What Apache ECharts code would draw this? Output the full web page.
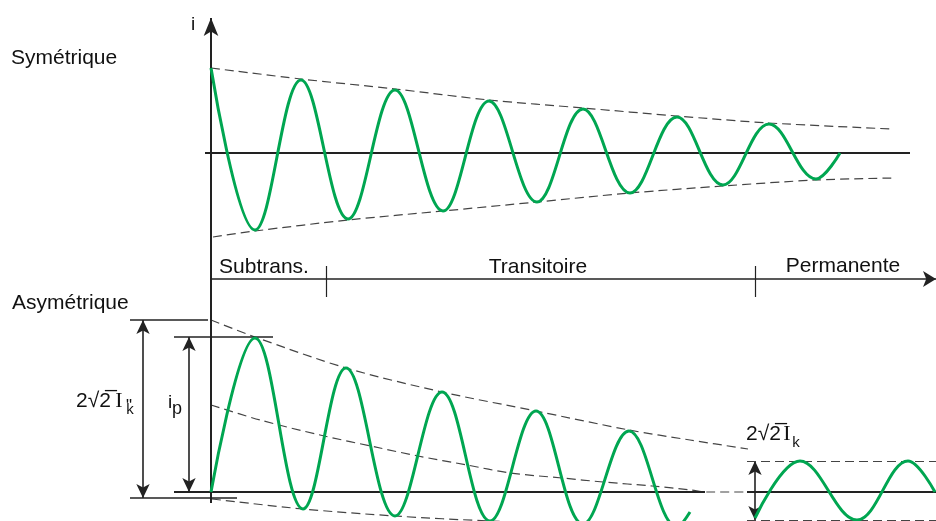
<!DOCTYPE html>
<html>
<head>
<meta charset="utf-8">
<script src="https://cdn.jsdelivr.net/npm/echarts@6/dist/echarts.min.js"></script>
<style>
  html, body { margin: 0; background: #fff; }
  #chart { width: 936px; height: 521px; }
</style>
</head>
<body>
<div id="chart"></div>
<script>
// t = 0 at the current axis, i in the same drawing units
var phaseNames = ['Subtrans.', 'Transitoire', 'Permanente'];
var phaseEdges = [115, 544];

// symmetric current: successive peaks and troughs
var symWave = [[0,85],[44,-77],[90,73],[137,-66],[184,63],[232,-58],[278,52],[326,-49],
  [372,44],[419,-40],[466,36],[512,-32],[558,29],[605,-26],[629,0]];
var symUpper = [[0,85],[90,74],[184,64],[278,53],[372,45],[466,37],[558,30],[681,24]];
var symLower = [[2,-84],[44,-78],[137,-67],[232,-58],[326,-49],[419,-40],[512,-33],[605,-27],[684,-25]];

// asymmetric current: successive peaks and troughs
var asymWave = [[0,0],[44,154],[92,-17],[135,124],[184,-24],[231,100],[279,-29],[325,81],
  [372,-32],[418,61],[466,-35],[479,-20]];
var asymUpper = [[0,172],[44,155],[135,124],[231,100],[325,81],[418,62],[479,52],[537,43]];
var asymDc = [[0,87],[49,72],[109,57],[169,44],[207,36],[256,27],[299,19],[351,14],[392,10],[441,6],[480,2],[496,0],[539,0]];
var asymLower = [[1,-7],[92,-17],[184,-24],[279,-29],[372,-32],[466,-35]];

// steady state
var steadyWave = [[544,-26],[589,31],[646,-28],[697,31],[724,0]];
var steadyPeak = 31, steadyTrough = -28;

// marked levels on the asymmetric plot
var ikInitial = 172;   // 2√2 I"k
var ipLevel = 155;     // ip
var ikBase = -6;

var GREEN = '#00a651', INK = '#222', DASH = '#444';
var FONT = 'Liberation Sans, Arial, sans-serif';

function seg(a, b, o) {
  o = o || {};
  return [
    { coord: a, symbol: o.from || 'none', symbolSize: o.size || 10,
      lineStyle: { color: INK, width: o.width || 2, type: o.type || 'solid' } },
    { coord: b, symbol: o.to || 'none', symbolSize: o.size || 10 }
  ];
}

function curve(name, data, grid, style, z, smooth) {
  return {
    name: name, type: 'line', xAxisIndex: grid, yAxisIndex: grid, data: data,
    showSymbol: false, smooth: smooth, z: z, silent: true,
    lineStyle: style
  };
}

var dashStyle = { color: DASH, width: 1.2, type: [9, 5] };
var waveStyle = { color: GREEN, width: 3 };
var arrowHead = [10, 14];

var topGuides = [
  seg([-6, 0], [699, 0]),
  seg([0, -126], [0, 135], { to: 'arrow', size: [11, 18] }),
  seg([-1, -126], [725, -126], { to: 'arrow', size: [12, 13], width: 1.6 }),
  seg([phaseEdges[0], -113], [phaseEdges[0], -126], { width: 1.2 }),
  seg([phaseEdges[1], -113], [phaseEdges[1], -126], { width: 1.2 })
];
var botGuides = [
  seg([0, 213], [0, -11]),
  seg([phaseEdges[0], 213], [phaseEdges[0], 195], { width: 1.2 }),
  seg([phaseEdges[1], 213], [phaseEdges[1], 195], { width: 1.2 }),
  seg([-37, 0], [494, 0]),
  seg([536, 0], [725, 0]),
  seg([-81, ikInitial], [-3, ikInitial], { width: 1.6 }),
  seg([-37, ipLevel], [62, ipLevel], { width: 1.6 }),
  seg([-81, ikBase], [26, ikBase], { width: 1.6 }),
  seg([-68, ikInitial], [-68, ikBase], { from: 'arrow', to: 'arrow', size: arrowHead, width: 1.6 }),
  seg([-22, ipLevel], [-22, 0], { from: 'arrow', to: 'arrow', size: arrowHead, width: 1.6 }),
  seg([phaseEdges[1], steadyPeak], [phaseEdges[1], steadyTrough], { from: 'arrow', to: 'arrow', size: arrowHead, width: 1.6 })
];
var steadyDash = [
  [{ coord: [536, steadyPeak] }, { coord: [725, steadyPeak] }],
  [{ coord: [536, steadyTrough] }, { coord: [725, steadyTrough] }]
];

function markLines(list, style) {
  return {
    silent: true, animation: false, symbol: 'none',
    label: { show: false }, emphasis: { disabled: true },
    lineStyle: style || { color: INK, width: 2, type: 'solid' },
    data: list
  };
}

var s1 = curve('symUpper', symUpper, 0, dashStyle, 2, 0.3);
s1.markLine = markLines(topGuides);
var s2 = curve('asymUpper', asymUpper, 1, dashStyle, 2, 0.3);
s2.markLine = markLines(botGuides);
var s3 = curve('asymLower', asymLower, 1, dashStyle, 2, 0.3);
s3.markLine = markLines(steadyDash, dashStyle);

var texts = [
  { t: 'i', x: 193, y: 25, size: 19, align: 'center' },
  { t: 'Symétrique', x: 11, y: 58, size: 21 },
  { t: 'Asymétrique', x: 12, y: 303, size: 21 },
  { t: phaseNames[0], x: 264, y: 267, size: 21, align: 'center' },
  { t: phaseNames[1], x: 538, y: 267, size: 21, align: 'center' },
  { t: phaseNames[2], x: 843, y: 266, size: 21, align: 'center' },
  { t: '2√2\u0305', x: 76, y: 401, size: 21 },
  { t: 'I', x: 119, y: 401, size: 22, align: 'center', serif: true },
  { t: '"', x: 129, y: 406, size: 17, align: 'center' },
  { t: 'k', x: 130, y: 410, size: 15, align: 'center' },
  { t: 'i', x: 168, y: 403, size: 19 },
  { t: 'p', x: 172, y: 409, size: 18 },
  { t: '2√2\u0305', x: 746, y: 434, size: 21 },
  { t: 'I', x: 787, y: 434, size: 22, align: 'center', serif: true },
  { t: 'k', x: 796, y: 443, size: 15, align: 'center' }
];

var chart = echarts.init(document.getElementById('chart'), null, { renderer: 'canvas' });
chart.setOption({
  animation: false,
  backgroundColor: '#fff',
  grid: [
    { left: 0, width: 936, top: 0, height: 279 },
    { left: 0, width: 936, top: 279, height: 242 }
  ],
  xAxis: [
    { type: 'value', gridIndex: 0, min: -211, max: 725, show: false },
    { type: 'value', gridIndex: 1, min: -211, max: 725, show: false }
  ],
  yAxis: [
    { type: 'value', gridIndex: 0, min: -126, max: 153, show: false },
    { type: 'value', gridIndex: 1, min: -29, max: 213, show: false }
  ],
  series: [
    s1,
    curve('symLower', symLower, 0, dashStyle, 2, 0.3),
    curve('symWave', symWave, 0, waveStyle, 5, 0.38),
    s2,
    curve('asymDc', asymDc, 1, dashStyle, 2, 0.3),
    s3,
    curve('asymWave', asymWave, 1, waveStyle, 5, 0.38),
    curve('steadyWave', steadyWave, 1, waveStyle, 5, 0.38)
  ],
  graphic: texts.map(function (d) {
    return {
      type: 'text', x: d.x, y: d.y, silent: true,
      style: {
        text: d.t, fill: '#111', fontSize: d.size,
        fontFamily: d.serif ? 'Liberation Serif, serif' : FONT,
        align: d.align || 'left', verticalAlign: 'middle'
      }
    };
  })
});
</script>
</body>
</html>
